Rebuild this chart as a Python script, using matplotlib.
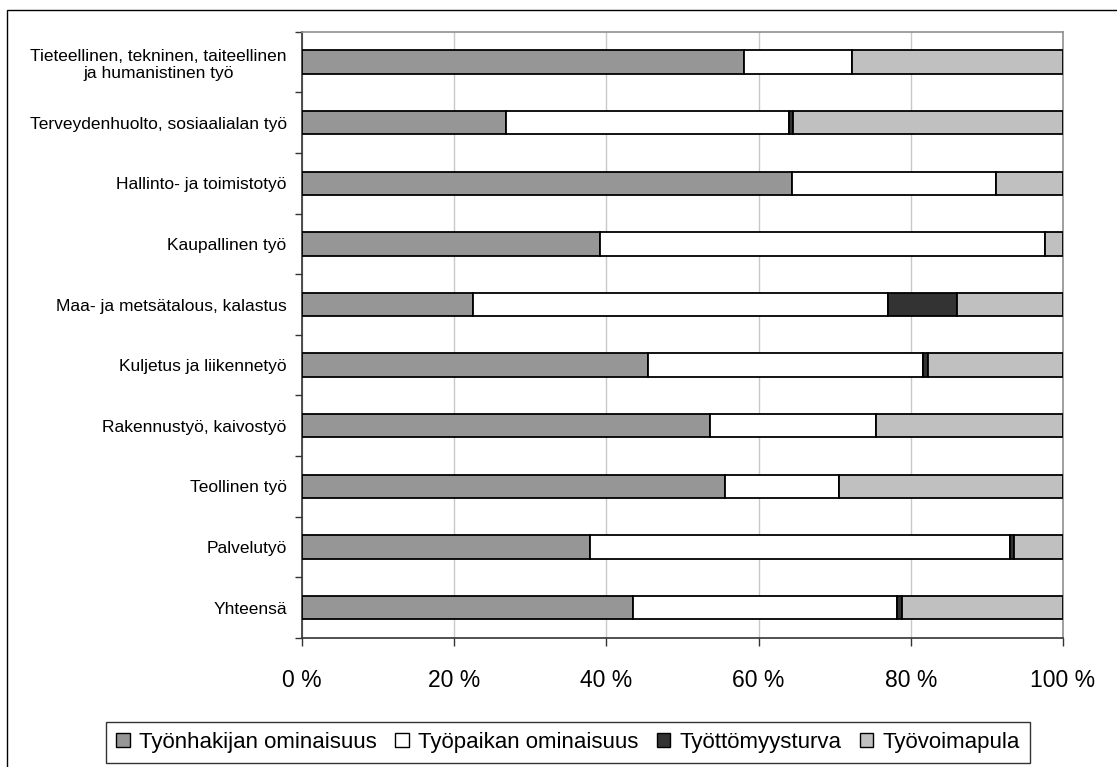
import matplotlib
matplotlib.use("Agg")
import matplotlib.pyplot as plt
import matplotlib.patches as mpatches
import numpy as np

plt.rcParams['font.family'] = ['Liberation Sans', 'DejaVu Sans']

categories = [
    "Tieteellinen, tekninen, taiteellinen\nja humanistinen työ",
    "Terveydenhuolto, sosiaalialan työ",
    "Hallinto- ja toimistotyö",
    "Kaupallinen työ",
    "Maa- ja metsätalous, kalastus",
    "Kuljetus ja liikennetyö",
    "Rakennustyö, kaivostyö",
    "Teollinen työ",
    "Palvelutyö",
    "Yhteensä",
]
hakija = [58.1, 26.8, 64.4, 39.2, 22.5, 45.5, 53.6, 55.6, 37.8, 43.5]
paikka = [14.2, 37.2, 26.8, 58.5, 54.5, 36.1, 21.8, 15.0, 55.3, 34.7]
turva = [0.0, 0.5, 0.0, 0.0, 9.1, 0.6, 0.0, 0.0, 0.5, 0.7]
pula = [27.7, 35.5, 8.8, 2.3, 13.9, 17.8, 24.6, 29.4, 6.4, 21.1]

series_names = ["Työnhakijan ominaisuus", "Työpaikan ominaisuus", "Työttömyysturva", "Työvoimapula"]
series = [hakija, paikka, turva, pula]
colors = ["#969696", "#ffffff", "#333333", "#c0c0c0"]
xticks = [0, 20, 40, 60, 80, 100]
xticklabels = ["0 %", "20 %", "40 %", "60 %", "80 %", "100 %"]

fig = plt.figure(figsize=(11.17, 7.67), dpi=100)
ax = fig.add_axes([302/1117, 1 - 638/767, (1063-302)/1117, (638-31.7)/767])

y = np.arange(len(categories))
left = np.zeros(len(categories))
handles = []
for name, vals, col in zip(series_names, series, colors):
    vals = np.array(vals)
    b = ax.barh(y, vals, left=left, height=0.385, color=col, edgecolor="black",
                linewidth=1.3, label=name, zorder=3)
    left = left + vals
    handles.append(b)

ax.set_ylim(len(categories) - 0.5, -0.5)
ax.set_xlim(0, 100)
ax.set_yticks(y)
ax.set_yticklabels(categories, fontsize=12.5, multialignment="center")
ax.set_yticks(np.arange(-0.5, len(categories), 1), minor=True)
ax.tick_params(axis="y", which="major", length=0, pad=11)
ax.tick_params(axis="y", which="minor", length=5, width=1, color="#333333", direction="out")
ax.set_xticks(xticks)
ax.set_xticklabels(xticklabels, fontsize=16.5)
ax.tick_params(axis="x", length=6, width=1, color="#333333", pad=16)

ax.grid(axis="x", color="#c8c8c8", linewidth=1, zorder=0)
ax.set_axisbelow(True)
for s in ["top", "right"]:
    ax.spines[s].set_color("#909090")
    ax.spines[s].set_linewidth(1.2)
for s in ["left", "bottom"]:
    ax.spines[s].set_color("#333333")
    ax.spines[s].set_linewidth(1.2)

leg = fig.legend(handles=handles, labels=series_names, loc="center",
                 bbox_to_anchor=(568/1117, 1 - 742.5/767), ncol=4, fontsize=16,
                 frameon=True, fancybox=False, edgecolor="black", handlelength=0.6,
                 handleheight=0.6, handletextpad=0.4, columnspacing=0.85,
                 borderpad=0.45)
leg.get_frame().set_linewidth(1.0)
for h in leg.legend_handles:
    h.set_linewidth(1.0)

border = mpatches.Rectangle((7/1117, -0.1), 1.2, 1 - 10/767 + 0.1, transform=fig.transFigure,
                            fill=False, edgecolor="black", linewidth=1.0)
fig.patches.append(border)

fig.savefig("out.png", dpi=100)
